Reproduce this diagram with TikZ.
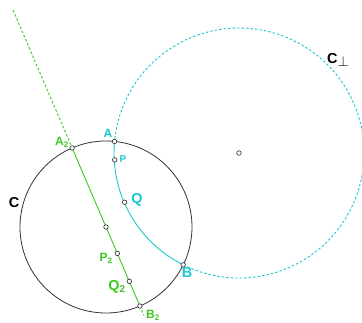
\documentclass[tikz,border=0pt]{standalone}
\usepackage{fontspec}
\setmainfont{Liberation Sans}
\usetikzlibrary{calc}
\definecolor{orthcyan}{RGB}{25,200,205}
\definecolor{geogreen}{RGB}{60,200,30}

\begin{document}
\begin{tikzpicture}[x=1pt, y=1pt,
    disk/.style={line width=0.8pt, black!80},
    orth/.style={line width=0.9pt, orthcyan},
    geo/.style={line width=0.9pt, geogreen},
    ext/.style={dash pattern=on 2.5pt off 2pt},
    pt/.style={circle, draw=black!85, fill=white, line width=0.6pt, inner sep=0pt, minimum size=4.5pt},
    lab/.style={font=\bfseries, inner sep=0pt}]
  \useasboundingbox (0,0) rectangle (362,322);

  % the disk C and the circle orthogonal to it
  \coordinate (O) at (106,95);
  \coordinate (Cc) at (239,169);
  \coordinate (A) at ($(Cc)+(174.67:125)$);
  \coordinate (B) at ($(Cc)+(243.48:125)$);
  % the diameter through the center of C
  \coordinate (A2) at ($(O)+(113.2:86)$);
  \coordinate (B2) at ($(O)+(293.2:86)$);
  \coordinate (A2far) at ($(O)+(113.2:236)$);
  \coordinate (B2far) at ($(O)+(293.2:96)$);

  \draw[disk] (O) circle[radius=86];
  \draw[orth, ext] (B) arc[start angle=243.48, end angle=534.67, radius=125];
  \draw[orth] (A) arc[start angle=174.67, end angle=243.48, radius=125];
  \draw[geo, ext] (A2far) -- (A2);
  \draw[geo, ext] (B2) -- (B2far);
  \draw[geo] (A2) -- (B2);

  % marked points
  \node[pt] (o) at (O) {};
  \node[pt] (cc) at (Cc) {};
  \node[pt] (a) at (A) {};
  \node[pt] (b) at (B) {};
  \node[pt] (a2) at (A2) {};
  \node[pt] (b2) at (B2) {};
  \node[pt] (p) at ($(Cc)+(183.2:124.5)$) {};
  \node[pt] (q) at ($(Cc)+(203.3:124.5)$) {};
  \node[pt] (p2) at ($(O)+(293.2:28.7)$) {};
  \node[pt] (q2) at ($(O)+(293.2:59.1)$) {};

  % labels
  \node[lab] (labC) at (14,119) {\Large C};
  \node[lab] (labCp) at (338,262) {\Large C\raisebox{-2.5pt}{$\perp$}};
  \node[lab, orthcyan] (labA) at (108,189) {\large A};
  \node[lab, orthcyan] (labP) at (123,163) {P};
  \node[lab, orthcyan] (labQ) at (137,122) {\Large Q};
  \node[lab, orthcyan] (labB) at (187,49) {\Large B};
  \node[lab, geogreen] (labA2) at (62,180) {\large A\textsubscript{2}};
  \node[lab, geogreen] (labP2) at (106,64) {\large P\textsubscript{2}};
  \node[lab, geogreen] (labQ2) at (117,35) {\Large Q\textsubscript{2}};
  \node[lab, geogreen] (labB2) at (153,7) {\large B\textsubscript{2}};
\end{tikzpicture}
\end{document}
